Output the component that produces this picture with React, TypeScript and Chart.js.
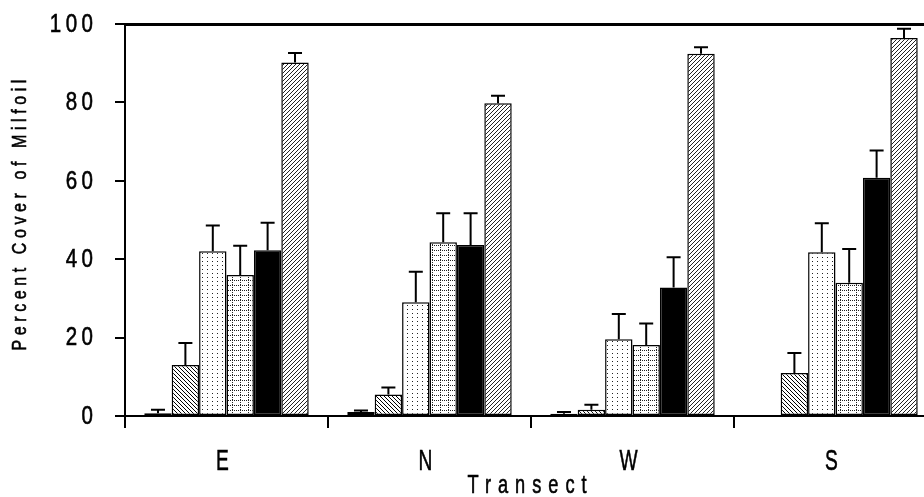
import React, { useEffect, useRef } from 'react';
import { Chart, registerables } from 'chart.js';
Chart.register(...registerables);

const categories = ['E', 'N', 'W', 'S'];
const seriesLabels = ['Series 1', 'Series 2', 'Series 3', 'Series 4', 'Series 5', 'Series 6'];

const s1 = [0.7, 1.0, 0.6, 0];
const s2 = [13, 5.5, 1.6, 11];
const s3 = [42, 29, 19.6, 41.8];
const s4 = [36, 44.3, 18.1, 34];
const s5 = [42.3, 43.6, 32.8, 60.8];
const s6 = [90.2, 79.8, 92.4, 96.4];

const e1 = [0.9, 0.4, 0.4, 0];
const e2 = [5.6, 1.8, 1.3, 5.1];
const e3 = [6.6, 7.8, 6.4, 7.4];
const e4 = [7.4, 7.4, 5.5, 8.6];
const e5 = [7.0, 8.1, 7.7, 6.9];
const e6 = [2.4, 1.9, 1.7, 2.4];

const yTicks = [0, 20, 40, 60, 80, 100];
const xTitle = 'Transect';
const yTitle = 'Percent Cover of Milfoil';

const values = [s1, s2, s3, s4, s5, s6];
const errors = [e1, e2, e3, e4, e5, e6];

const FONT = "'Liberation Sans', Arial, sans-serif";

function makePattern(kind: string): CanvasPattern | string {
  const c = document.createElement('canvas');
  let w = 4, h = 4;
  if (kind === 'dots') { w = 5; h = 4; }
  if (kind === 'grid') { w = 8; h = 5; }
  c.width = w; c.height = h;
  const g = c.getContext('2d')!;
  g.fillStyle = '#fff';
  g.fillRect(0, 0, w, h);
  g.fillStyle = '#000';
  if (kind === 'back') {
    for (let i = 0; i < 4; i++) g.fillRect(i, i, 1, 1);
  } else if (kind === 'fwd') {
    g.fillStyle = '#222';
    for (let i = 0; i < 4; i++) g.fillRect(3 - i, i, 1, 1);
  } else if (kind === 'dots') {
    g.fillStyle = '#222';
    g.fillRect(2, 1, 1, 1);
  } else if (kind === 'grid') {
    g.fillStyle = '#222';
    for (let x = 0; x < w; x += 2) g.fillRect(x, 0, 1, 1);
    for (let y = 0; y < h; y += 2) g.fillRect(0, y, 1, 1);
  }
  const p = g.createPattern(c, 'repeat');
  return p || '#fff';
}

function drawText(
  ctx: any, text: string, x: number, y: number,
  o: { size: number; sx: number; spacing: number; align: 'left' | 'center' | 'right'; rotate?: boolean }
) {
  ctx.save();
  ctx.translate(x, y);
  if (o.rotate) ctx.rotate(-Math.PI / 2);
  ctx.scale(o.sx, 1);
  ctx.font = `${o.size}px ${FONT}`;
  ctx.fillStyle = '#000';
  ctx.strokeStyle = '#000';
  ctx.lineWidth = 0.6;
  ctx.letterSpacing = `${o.spacing / o.sx}px`;
  ctx.textBaseline = 'middle';
  ctx.textAlign = 'left';
  const w = ctx.measureText(text).width - o.spacing / o.sx;
  const x0 = o.align === 'center' ? -w / 2 : o.align === 'right' ? -w : 0;
  ctx.fillText(text, x0, 0);
  ctx.strokeText(text, x0, 0);
  ctx.restore();
}

const errorBarPlugin = {
  id: 'errorBars',
  afterDatasetsDraw(chart: any) {
    const ctx = chart.ctx;
    const y = chart.scales.y;
    ctx.save();
    ctx.strokeStyle = '#000';
    ctx.lineWidth = 2;
    chart.data.datasets.forEach((ds: any, i: number) => {
      const meta = chart.getDatasetMeta(i);
      meta.data.forEach((bar: any, j: number) => {
        const v = ds.data[j];
        const e = errors[i][j];
        if (!e) return;
        const top = y.getPixelForValue(v + e);
        ctx.beginPath();
        ctx.moveTo(bar.x, bar.y);
        ctx.lineTo(bar.x, top);
        ctx.moveTo(bar.x - 7, top);
        ctx.lineTo(bar.x + 7, top);
        ctx.stroke();
      });
    });
    ctx.restore();
  },
};

const textPlugin = {
  id: 'condensedText',
  afterDraw(chart: any) {
    const ctx = chart.ctx;
    const ys = chart.scales.y;
    const xs = chart.scales.x;
    yTicks.forEach((v) => {
      drawText(ctx, String(v), ys.right - 32, ys.getPixelForValue(v) + 1, { size: 25, sx: 0.82, spacing: 4.5, align: 'right' });
    });
    categories.forEach((c, i) => {
      drawText(ctx, c, xs.getPixelForValue(i) - 4, xs.top + 46, { size: 30, sx: 0.64, spacing: 0, align: 'center' });
    });
    drawText(ctx, xTitle, (xs.left + xs.right) / 2 - 4, xs.top + 70, { size: 26, sx: 0.7, spacing: 7, align: 'center' });
    drawText(ctx, yTitle, 20, (ys.top + ys.bottom) / 2 - 5, { size: 21, sx: 0.76, spacing: 4.6, align: 'center', rotate: true });
  },
};

export default function App() {
  const ref = useRef<HTMLCanvasElement | null>(null);
  useEffect(() => {
    const canvas = ref.current!;
    const fills = [
      '#ffffff',
      makePattern('back'),
      makePattern('dots'),
      makePattern('grid'),
      '#000000',
      makePattern('fwd'),
    ];
    const chart = new Chart(canvas, {
      type: 'bar',
      data: {
        labels: categories,
        datasets: values.map((vals, i) => ({
          label: seriesLabels[i],
          data: vals,
          backgroundColor: fills[i] as any,
          borderColor: '#000',
          borderWidth: 1.5,
          borderSkipped: false,
          categoryPercentage: 0.81,
          barPercentage: 1.0,
          xAxisID: 'x',
        })),
      },
      options: {
        responsive: false,
        animation: false,
        layout: { padding: { left: 0, top: 24, right: 13, bottom: 0 } },
        plugins: { legend: { display: false }, tooltip: { enabled: false } },
        scales: {
          x: {
            position: 'bottom',
            grid: { offset: true, drawOnChartArea: false, tickLength: 12, color: '#000', lineWidth: 2 },
            border: { display: true, color: '#000', width: 2 },
            ticks: { display: false },
            title: { display: false, text: xTitle },
            afterFit: (s: any) => { s.height = 81; },
          },
          x2: {
            type: 'category',
            position: 'top',
            grid: { display: false, drawTicks: false },
            border: { display: true, color: '#000', width: 3 },
            ticks: { display: false },
            afterFit: (s: any) => { s.height = 0; },
          },
          y: {
            min: 0,
            max: 100,
            afterBuildTicks: (s: any) => { s.ticks = yTicks.map((v) => ({ value: v })); },
            ticks: { display: false },
            grid: { drawOnChartArea: false, tickLength: 10, color: '#000', lineWidth: 2 },
            border: { display: true, color: '#000', width: 2 },
            title: { display: false, text: yTitle },
            afterFit: (s: any) => { s.width = 125; },
          },
        },
      } as any,
      plugins: [errorBarPlugin, textPlugin],
    });
    return () => chart.destroy();
  }, []);
  return (
    <div style={{ position: 'fixed', left: 0, top: 0, width: 924, height: 497, overflow: 'hidden', background: '#fff' }}>
      <canvas ref={ref} width={950} height={497} style={{ width: 950, height: 497, display: 'block' }} />
    </div>
  );
}
